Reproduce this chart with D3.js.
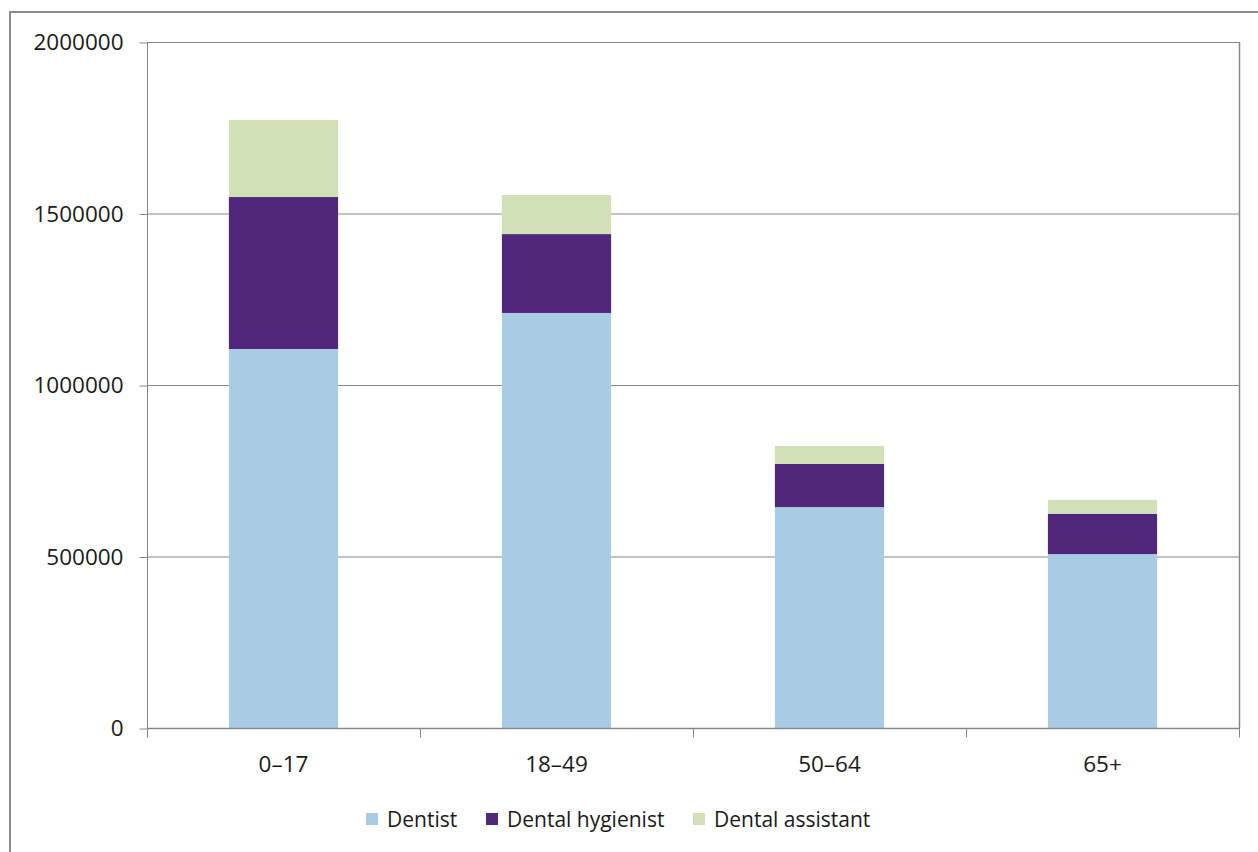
<!DOCTYPE html>
<html><head><meta charset="utf-8">
<script src="https://cdn.jsdelivr.net/npm/d3@7"></script>
<style>html,body{margin:0;padding:0;background:#fff;}svg{display:block;}</style>
</head><body>
<svg id="chart" width="1258" height="852"></svg>
<script>
const categories = ["0–17", "18–49", "50–64", "65+"];
const seriesNames = ["Dentist", "Dental hygienist", "Dental assistant"];
const dentist = [1105000, 1210000, 644000, 507000];
const hygienist = [443000, 230000, 126000, 117000];
const assistant = [225000, 114000, 52000, 41000];
const yTicks = [0, 500000, 1000000, 1500000, 2000000];
const colors = ["#A9CCE4", "#4F287C", "#D2E0B8"];

const svg = d3.select("#chart");
const font = "'Open Sans', sans-serif";
const pLeft = 147, pRight = 1239, pTop = 42, pBottom = 728;

svg.append("rect").attr("x", 10).attr("y", 12).attr("width", 1300).attr("height", 900)
  .attr("fill", "none").attr("stroke", "#8c8c8c").attr("stroke-width", 2);

const x = d3.scaleBand().domain(categories).range([pLeft, pRight]).padding(0);
const y = d3.scaleLinear().domain([0, 2000000]).range([pBottom, pTop]);

// gridlines
svg.append("g").selectAll("line").data(yTicks.filter(d => d > 0)).join("line")
  .attr("x1", pLeft).attr("x2", pRight)
  .attr("y1", d => y(d) + 0.5).attr("y2", d => y(d) + 0.5)
  .attr("stroke", "#878787").attr("stroke-width", 1);
// right border
svg.append("line").attr("x1", pRight + 0.5).attr("x2", pRight + 0.5).attr("y1", pTop).attr("y2", pBottom)
  .attr("stroke", "#878787").attr("stroke-width", 1.5);

const rows = categories.map((c, i) => ({cat: c, s0: dentist[i], s1: hygienist[i], s2: assistant[i]}));
const stacked = d3.stack().keys(["s0", "s1", "s2"])(rows);
const barW = x.bandwidth() * 0.4;
svg.append("g").selectAll("g").data(stacked).join("g")
  .attr("fill", (d, i) => colors[i])
  .selectAll("rect").data(d => d).join("rect")
  .attr("x", d => x(d.data.cat) + (x.bandwidth() - barW) / 2)
  .attr("width", barW)
  .attr("y", d => y(d[1]))
  .attr("height", d => y(d[0]) - y(d[1]));

// y axis
const yAxis = d3.axisLeft(y).tickValues(yTicks).tickSize(8).tickPadding(16).tickFormat(d3.format("d"));
const gy = svg.append("g").attr("transform", `translate(${pLeft + 0.5},0.5)`).call(yAxis);
gy.select(".domain").attr("stroke", "#878787").attr("d", `M0,${pTop}V${pBottom}`);
gy.selectAll(".tick line").attr("stroke", "#878787");
gy.selectAll("text").attr("font-family", font).attr("font-size", 22.5).attr("fill", "#1a1a1a");

// x axis
const gx = svg.append("g").attr("transform", `translate(0,${pBottom + 0.5})`);
gx.append("line").attr("x1", pLeft).attr("x2", pRight + 1).attr("stroke", "#878787").attr("stroke-width", 1.5);
const bounds = categories.map(c => x(c)).concat([pRight]);
gx.selectAll("line.tk").data(bounds).join("line").attr("class", "tk")
  .attr("x1", d => d + 0.5).attr("x2", d => d + 0.5).attr("y1", 0).attr("y2", 9)
  .attr("stroke", "#878787");
gx.selectAll("text").data(categories).join("text")
  .attr("x", d => x(d) + x.bandwidth() / 2).attr("y", 43)
  .attr("text-anchor", "middle").attr("font-family", font).attr("font-size", 22.5).attr("fill", "#1a1a1a")
  .text(d => d);

// legend
const legendX = [366, 486, 693];
const lg = svg.append("g");
seriesNames.forEach((n, i) => {
  lg.append("rect").attr("x", legendX[i]).attr("y", 813).attr("width", 12).attr("height", 12).attr("fill", colors[i]);
  lg.append("text").attr("x", legendX[i] + 21).attr("y", 827).attr("font-family", font)
    .attr("font-size", 21).attr("fill", "#1a1a1a").text(n);
});
</script>
</body></html>
